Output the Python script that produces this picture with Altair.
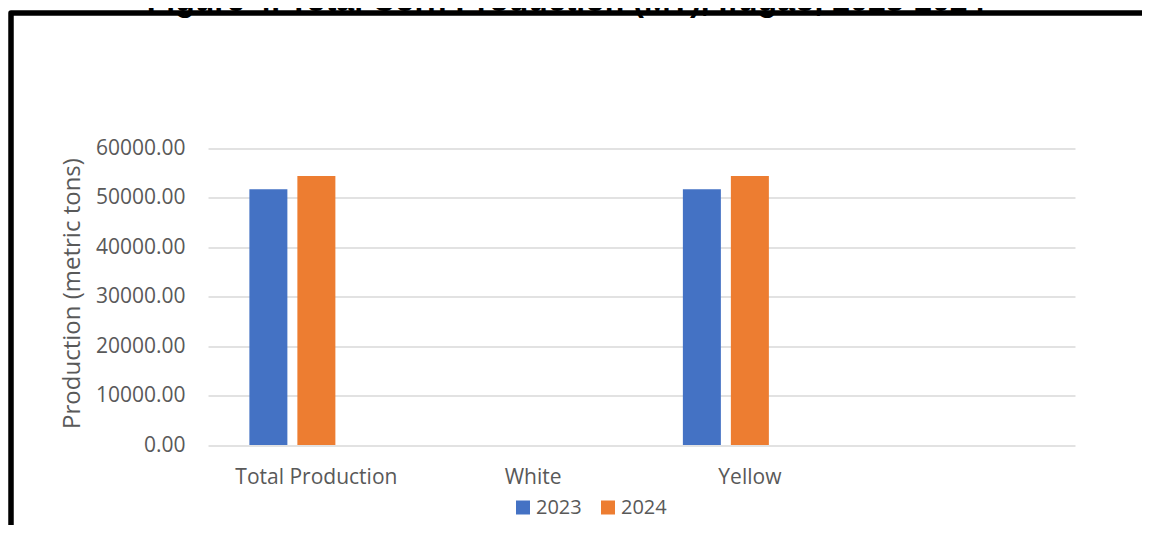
import altair as alt
import pandas as pd

TITLE = "Figure 4. Total Corn Production (MT), Ifugao, 2023-2024"
Y_TITLE = "Production (metric tons)"
categories = ["Total Production", "White", "Yellow"]
x_domain = ["Total Production", "White", "Yellow", " "]
years = ["2023", "2024"]
offset_domain = ["2023", "2024", "_"]
values_2023 = [51740, 0, 51740]
values_2024 = [54430, 0, 54430]
colors = ["#4472C4", "#ED7D31"]
y_ticks = [0, 10000, 20000, 30000, 40000, 50000, 60000]

rows = []
for c, v in zip(categories, values_2023):
    rows.append({"category": c, "year": "2023", "value": v})
for c, v in zip(categories, values_2024):
    rows.append({"category": c, "year": "2024", "value": v})
df = pd.DataFrame(rows)

W, H = 867, 296.5
FONT = "Open Sans"
GRAY = "#595959"

bars = alt.Chart(df).mark_bar().encode(
    x=alt.X("category:N", scale=alt.Scale(domain=x_domain, paddingInner=0, paddingOuter=0),
            sort=x_domain,
            axis=alt.Axis(title=None, labelAngle=0, ticks=False, tickSize=0, domain=False,
                          labelPadding=21, labelFontSize=21, labelFont=FONT,
                          labelColor=GRAY, grid=False)),
    xOffset=alt.XOffset("year:N", scale=alt.Scale(domain=offset_domain,
                                                   paddingInner=0.2083, paddingOuter=0.862)),
    y=alt.Y("value:Q", scale=alt.Scale(domain=[0, 60000], nice=False),
            axis=alt.Axis(title=Y_TITLE, values=y_ticks, format=".2f", ticks=False, tickSize=0,
                          domain=False, labelPadding=23, labelFontSize=21, labelFont=FONT,
                          labelColor=GRAY, grid=True, gridColor="#d9d9d9", gridWidth=1.4,
                          titleFont=FONT, titleFontSize=24, titleColor=GRAY,
                          titleFontWeight="normal", titleX=-135.5, titleY=144.5,
                          titleAngle=270, titleAlign="center", titleBaseline="middle")),
    color=alt.Color("year:N", scale=alt.Scale(domain=years, range=colors),
                    legend=alt.Legend(title=None, orient="none", direction="horizontal",
                                      legendX=305, legendY=349, symbolType="square",
                                      symbolSize=196, symbolStrokeWidth=0, labelFont=FONT,
                                      labelFontSize=20, labelColor=GRAY, labelOffset=3,
                                      columnPadding=16, padding=0)),
)

frame = alt.Chart(pd.DataFrame({"k": [0]})).mark_rect(
    fillOpacity=0, stroke="black", strokeWidth=5.5, strokeJoin="round"
).encode(x=alt.value(-197), y=alt.value(-135.5), x2=alt.value(1500), y2=alt.value(900))

title = alt.Chart(pd.DataFrame({"t": [TITLE]})).mark_text(
    font="Liberation Sans", fontSize=32, fontWeight="bold", color="black",
    align="center", baseline="alphabetic"
).encode(text="t:N", x=alt.value(358), y=alt.value(-137.5))

chart = alt.layer(bars, frame, title).properties(
    width=W, height=H,
    background="white",
    autosize=alt.AutoSizeParams(type="none"),
    padding={"left": 200, "top": 140.5, "right": 67, "bottom": 80},
).configure_view(stroke=None)

chart.save("out.html", embed_options={"renderer": "svg", "actions": False})
